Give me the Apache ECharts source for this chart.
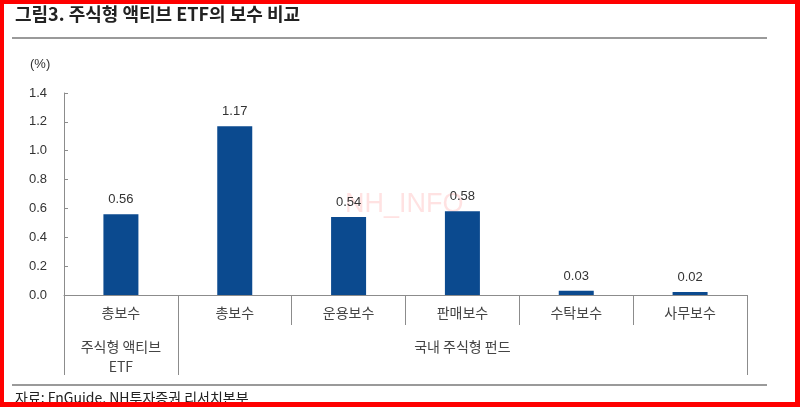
<!DOCTYPE html>
<html>
<head>
<meta charset="utf-8">
<script src="https://cdn.jsdelivr.net/npm/echarts@6/dist/echarts.min.js"></script>
<style>
html,body{margin:0;padding:0;background:#fff;}
#chart{width:800px;height:407px;}
</style>
</head>
<body>
<div id="chart"></div>
<script>
const titleText = '그림3. 주식형 액티브 ETF의 보수 비교';
const unitText = '(%)';
const sourceText = '자료: FnGuide, NH투자증권 리서치본부';
const categories = ['총보수', '총보수', '운용보수', '판매보수', '수탁보수', '사무보수'];
const values = [0.56, 1.17, 0.54, 0.58, 0.03, 0.02];
const groupLabels = ['주식형 액티브\nETF', '', '', '국내 주식형 펀드', '', ''];
const groupStarts = [0, 1];
const yMin = 0, yMax = 1.4, yStep = 0.2;

const FONT = 'Liberation Sans, Arial, "Noto Sans CJK KR", sans-serif';
const KFONT = '"Noto Sans CJK KR", "Liberation Sans", sans-serif';
const grey = '#8c8c8c';

const chart = echarts.init(document.getElementById('chart'), null, {renderer: 'canvas'});
chart.setOption({
  backgroundColor: '#ffffff',
  animation: false,
  textStyle: {fontFamily: FONT},
  grid: {left: 64, right: 53, top: 93, bottom: 112, containLabel: false, outerBoundsMode: 'none'},
  xAxis: [
    {
      type: 'category',
      data: categories,
      position: 'bottom',
      axisLine: {show: true, lineStyle: {color: grey, width: 1}},
      axisTick: {show: true, length: 30, lineStyle: {color: grey}},
      axisLabel: {color: '#444', fontSize: 14, fontFamily: KFONT, margin: 11, interval: 0}
    },
    {
      type: 'category',
      data: categories,
      position: 'bottom',
      offset: 0,
      axisLine: {show: false},
      axisTick: {show: true, length: 80, lineStyle: {color: grey},
        interval: function (i) { return groupStarts.indexOf(i) >= 0; }},
      axisLabel: {color: '#444', fontSize: 14, fontFamily: KFONT, margin: 42, lineHeight: 20,
        interval: function (i) { return groupLabels[i] !== ''; },
        formatter: function (v, i) { return groupLabels[i]; }},
      splitLine: {show: false}
    }
  ],
  yAxis: {
    type: 'value',
    min: yMin, max: yMax, interval: yStep,
    axisLine: {show: true, lineStyle: {color: grey}},
    axisTick: {show: true, inside: true, length: 4, lineStyle: {color: grey}},
    splitLine: {show: false},
    axisLabel: {color: '#333', fontSize: 13, margin: 17, formatter: function (v) { return v.toFixed(1); }}
  },
  series: [{
    type: 'bar',
    xAxisIndex: 0,
    data: values,
    barWidth: 35,
    itemStyle: {color: '#0b4a8f'},
    label: {show: true, position: 'top', distance: 8, color: '#333', fontSize: 13,
      formatter: function (p) { return p.value.toFixed(2); }}
  }],
  graphic: [
    {type: 'text', left: 15, top: 5, style: {text: titleText, font: 'bold 18px ' + KFONT, fill: '#222'}},
    {type: 'line', shape: {x1: 12, y1: 38, x2: 767, y2: 38}, style: {stroke: '#9a9a9a', lineWidth: 2}},
    {type: 'text', left: 30, top: 58, style: {text: unitText, font: '13px ' + FONT, fill: '#333'}},
    {type: 'text', left: 345, top: 191, z: 0, style: {text: 'NH_INFO', font: '27px ' + FONT, fill: 'rgba(255,140,140,0.25)'}},
    {type: 'line', shape: {x1: 12, y1: 385, x2: 767, y2: 385}, style: {stroke: '#9a9a9a', lineWidth: 2}},
    {type: 'text', left: 15, top: 391, style: {text: sourceText, font: '14px ' + KFONT, fill: '#222'}},
    {type: 'rect', z: 100, shape: {x: 0, y: 0, width: 4, height: 407}, style: {fill: '#ff0000'}},
    {type: 'rect', z: 100, shape: {x: 0, y: 0, width: 800, height: 4}, style: {fill: '#ff0000'}},
    {type: 'rect', z: 100, shape: {x: 795, y: 0, width: 5, height: 407}, style: {fill: '#ff0000'}},
    {type: 'rect', z: 100, shape: {x: 0, y: 402, width: 800, height: 5}, style: {fill: '#ff0000'}}
  ]
});
</script>
</body>
</html>
